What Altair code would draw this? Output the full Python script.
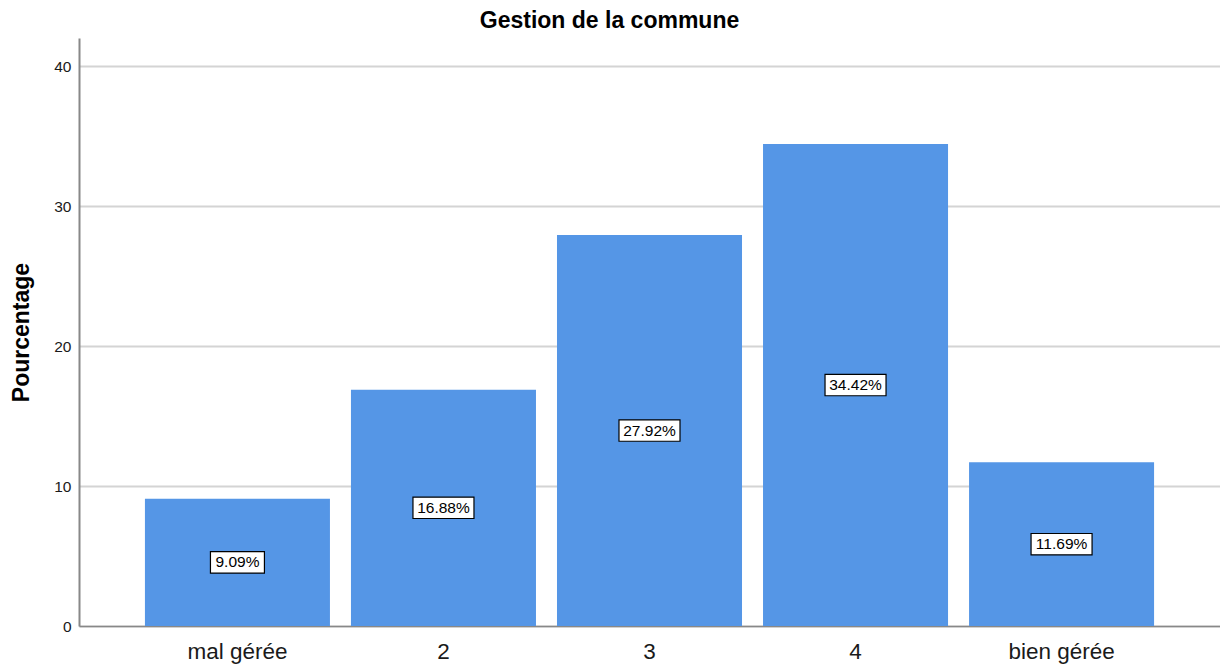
import altair as alt
import pandas as pd

categories = ["mal gérée", "2", "3", "4", "bien gérée"]
percentages = [9.09, 16.88, 27.92, 34.42, 11.69]
y_ticks = [0, 10, 20, 30, 40]

df = pd.DataFrame({"cat": categories, "pct": percentages})

FONT = "Liberation Sans"
BAR = "#5596e6"

x_enc = alt.X(
    "cat:N",
    sort=categories,
    scale=alt.Scale(paddingInner=0.102, paddingOuter=0.32),
    axis=alt.Axis(
        title=None,
        labelAngle=0,
        ticks=False,
        labelPadding=14,
        labelFontSize=22.5,
        labelFont=FONT,
        labelColor="#1a1a1a",
        domainColor="#888888",
        domainWidth=1.5,
        grid=False,
    ),
)

y_scale = alt.Scale(domain=[0, 42], nice=False)

bars = alt.Chart(df).mark_bar(color=BAR).encode(
    x=x_enc,
    y=alt.Y(
        "pct:Q",
        scale=y_scale,
        axis=alt.Axis(
            values=y_ticks,
            title="Pourcentage",
            titleFont=FONT,
            titleFontSize=23,
            titleFontWeight="bold",
            titleColor="black",
            titleAngle=-90,
            titleX=-58,
            titleY=294,
            titleAlign="center",
            titleBaseline="middle",
            ticks=False,
            labelPadding=8,
            labelFontSize=15.5,
            labelFont=FONT,
            labelColor="#1a1a1a",
            domainColor="#888888",
            domainWidth=2,
            grid=True,
            gridColor="#d4d4d4",
            gridWidth=2,
        ),
    ),
)

base_lbl = alt.Chart(df).transform_calculate(
    half="datum.pct / 2",
    label="format(datum.pct, '.2f') + '%'",
    nchar="length(format(datum.pct, '.2f') + '%')",
)

boxes = base_lbl.mark_point(
    filled=True, fill="white", stroke="black", strokeWidth=1.2, opacity=1, size=61 * 61
).encode(
    x=alt.X("cat:N", sort=categories),
    y=alt.Y("half:Q", scale=y_scale),
    shape=alt.Shape(
        "nchar:O",
        scale=alt.Scale(
            domain=[5, 6],
            range=[
                "M-0.885,-0.35H0.885V0.35H-0.885Z",
                "M-1,-0.35H1V0.35H-1Z",
            ],
        ),
        legend=None,
    ),
)

texts = base_lbl.mark_text(font=FONT, fontSize=15.5, color="black").encode(
    x=alt.X("cat:N", sort=categories),
    y=alt.Y("half:Q", scale=y_scale),
    text="label:N",
)

chart = (
    alt.layer(bars, boxes, texts)
    .properties(
        width=1141,
        height=588,
        title=alt.TitleParams(
            "Gestion de la commune",
            font=FONT,
            fontSize=23,
            fontWeight="bold",
            color="black",
            anchor="middle",
            dx=-40,
            offset=5,
        ),
        autosize=alt.AutoSizeParams(type="none"),
        padding={"left": 71, "top": 30, "right": 0, "bottom": 40},
    )
    .configure(background="white")
    .configure_view(strokeWidth=0, stroke="transparent")
)

chart.save("out.html", embed_options={"renderer": "svg", "actions": False})
